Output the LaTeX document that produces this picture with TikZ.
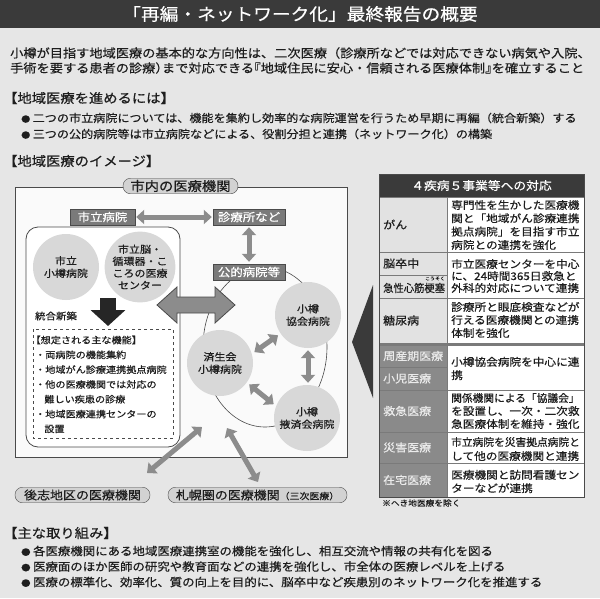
\documentclass[tikz,border=0pt]{standalone}
\usepackage{fontspec}
\usepackage{tikz}
\usetikzlibrary{positioning,arrows.meta}

\newfontfamily\jp{Noto Sans CJK JP}[FakeStretch=1.1,FakeBold=0.5]
\newfontfamily\jph{Noto Sans CJK JP}[FakeStretch=1.1,FakeBold=0.5,RawFeature=+halt]
\newcommand{\fsz}[2]{\fontsize{#1}{#2}\selectfont}
\newcommand{\halfw}[1]{{\jph #1}}
\newcommand{\blt}{\makebox[1.05em][l]{\scalebox{0.75}{●}}}

\definecolor{bggray}{HTML}{E6E6E6}
\definecolor{barblack}{HTML}{3A3A3A}
\definecolor{ink}{HTML}{1E1E1E}
\definecolor{edge}{HTML}{4A4A4A}
\definecolor{lblgray}{HTML}{7A7A7A}
\definecolor{circgray}{HTML}{D8D8D8}
\definecolor{arrgray}{HTML}{8C8C8C}
\definecolor{pillgray}{HTML}{D2D2D2}
\definecolor{celllite}{HTML}{E2E2E2}
\definecolor{celldark}{HTML}{8A8A8A}
\definecolor{cellline}{HTML}{7A7A7A}

\begin{document}
\begin{tikzpicture}[x=1pt, y=-1pt, on grid,
  txt/.style={inner sep=0pt, text=ink, align=left},
  lbl/.style={draw=edge, fill=lblgray, text=white, minimum height=16pt, inner sep=0pt, font=\jp\fsz{11.3}{12}},
  hosp/.style={circle, fill=circgray, minimum size=66pt, inner sep=0pt, align=center, text=ink, font=\jp\fsz{10}{12.5}},
  pill/.style={draw=edge, fill=pillgray, rounded corners=7.5pt, minimum height=15.5pt, inner sep=0pt, text=ink},
  link/.style={line width=5pt, draw=arrgray, {Triangle[length=8pt,width=14pt]}-{Triangle[length=8pt,width=14pt]}},
  lcell/.style={anchor=west, inner sep=0pt, text=ink, font=\jp\fsz{10.9}{13}},
  dcell/.style={lcell, text=white!92!black},
  rcell/.style={anchor=west, inner sep=0pt, text=ink, align=left, font=\jp\fsz{10.6}{13.3}}]

  \fill[bggray] (0,0) rectangle (600,598);
  \useasboundingbox (0,0) rectangle (600,598);
  \fill[barblack] (0,0) rectangle (600,28);
  \node[txt, text=white, font=\jp\fsz{17}{20}] (title) at (300,14) {「再編・ネットワーク化」最終報告の概要};

  \node[txt, anchor=west, font=\jp\fsz{12}{15}] (lead) at (10,60.5) {小樽が目指す地域医療の基本的な方向性は、二次医療（診療所などでは対応できない病気や入院、\\手術を要する患者の診療\halfw{）}まで対応できる\halfw{『}地域住民に安心・信頼される医療体制\halfw{』}を確立すること};

  \node[txt, anchor=west, font=\jp\fsz{13}{15}] (sec1) at (3,98) {【地域医療を進めるには】};
  \node[txt, anchor=west, font=\jp\fsz{11}{16}] (sec1b) at (21,126) {\blt 二つの市立病院については、機能を集約し効率的な病院運営を行うため早期に再編（統合新築）する\\\blt 三つの公的病院等は市立病院などによる、役割分担と連携（ネットワーク化）の構築};
  \node[txt, anchor=west, font=\jp\fsz{13}{15}] (sec2) at (3,161) {【地域医療のイメージ】};

  % map of the city
  \draw[edge, fill=white!98!black, line width=0.8pt] (15,187) rectangle (347,457);
  \draw[edge, line width=0.6pt] (265,347) ellipse [x radius=62, y radius=80];
  \node[pill, minimum width=115pt, font=\jp\fsz{13}{14}] (shinai) at (180.5,186) {市内の医療機関};

  \draw[edge, fill=white, rounded corners=12pt, line width=0.8pt] (26,227) rectangle (180,447);
  \node[lbl, minimum width=65pt] (shiritsu) at (102.5,217) {市立病院};
  \node[lbl, minimum width=72pt] (shinryo) [right=146.5pt of shiritsu] {診療所など};
  \node[lbl, minimum width=72pt] (kouteki) [below=55pt of shinryo] {公的病院等};

  \node[hosp] (otaru) at (66,267) {市立\\小樽病院};
  \node[hosp, font=\jp\fsz{10}{12}] (nouju) [right=74pt of otaru] {市立脳・\\循環器・こ\\ころの医療\\センター};

  \coordinate (merge1) at (108,298);
  \coordinate (merge2) at (108,326);
  \draw[line width=16pt, draw=black!85, -{Triangle[length=16pt,width=34pt]}] (merge1) -- (merge2);
  \node[txt, font=\jp\fsz{9.5}{11}] (merge) at (56,316) {統合新築};

  \draw[edge, dashed, line width=0.7pt] (33,329) rectangle (173,438);
  \node[txt, anchor=west, font=\jp\fsz{9.2}{14.8}] (kinou) at (35,384.4) {\hspace{-0.5em}【想定される主な機能】\\・両病院の機能集約\\・地域がん診療連携拠点病院\\・他の医療機関では対応の\\\hspace*{1em}難しい疾患の診療\\・地域医療連携センターの\\\hspace*{1em}設置};

  \coordinate (big1) at (157,305);
  \coordinate (big2) at (235,305);
  \draw[edge, fill=arrgray, line width=0.8pt] (big1) -- ++(20,-18) -- ++(0,10) -- ++(38,0) -- ++(0,-10) -- (big2) -- ++(-20,18) -- ++(0,-10) -- ++(-38,0) -- ++(0,10) -- cycle;

  \node[hosp] (saisei) at (220,363) {済生会\\小樽病院};
  \node[hosp] (kyokai) at (308,315) {小樽\\協会病院};
  \node[hosp] (ekisai) at (307,418) {小樽\\掖済会病院};

  \draw[link, shorten <=1pt, shorten >=1pt] (shiritsu) -- (shinryo);
  \draw[link, shorten <=2pt, shorten >=2pt] (shinryo) -- (kouteki);
  \draw[link, shorten <=3pt, shorten >=3pt] (saisei.16) -- (kyokai.214);
  \draw[link, shorten <=2pt, shorten >=2pt] (kyokai.south) -- (kyokai.south |- ekisai.north);
  \draw[link, shorten <=3pt, shorten >=3pt] (saisei.-36) -- (ekisai.159);

  \node[pill, minimum width=135pt, font=\jp\fsz{11.8}{13}] (shiribeshi) at (82.5,495) {後志地区の医療機関};
  \node[pill, minimum width=179pt, font=\jp\fsz{11.8}{13}] (sapporo) at (257.5,495) {札幌圏の医療機関{\fsz{9}{10}（三次医療）}};
  \coordinate (out1) at (147,473);
  \coordinate (in1) at (202,427);
  \coordinate (out2) at (258,482);
  \coordinate (in2) at (227,428);
  \draw[link] (out1) -- (in1);
  \draw[link] (out2) -- (in2);

  % table of diseases
  \fill[barblack] (352,342) -- (373,285) -- (373,398) -- cycle;
  \fill[barblack] (379,174) rectangle (584,197);
  \node[txt, text=white, font=\jp\fsz{11.6}{13}] (taiou) at (481.5,185.5) {４疾病５事業等への対応};

  \foreach \ya/\yb/\fc in {197/252/celllite, 252/275/celllite, 275/298/celllite, 298/343/celllite, 345/367/celldark, 367/390/celldark, 390/432/celldark, 432/463/celldark, 463/497/celldark}
    \filldraw[draw=cellline, fill=\fc] (379,\ya) rectangle (447,\yb);
  \foreach \ya/\yb in {197/252, 252/298, 298/343, 345/390, 390/432, 432/463, 463/497}
    \filldraw[draw=cellline, fill=white] (447,\ya) rectangle (584,\yb);
  \fill[cellline] (379,343) rectangle (584,345);
  \draw[edge, line width=0.8pt] (379,174) rectangle (584,497);

  \node[lcell] (gan) at (383,224.5) {がん};
  \node[lcell] (nou) at (383,263.5) {脳卒中};
  \node[lcell] (shinkin) at (383,288) {\scalebox{0.86}[1]{急性心筋梗塞}};
  \node[txt, font=\jp\fsz{4.5}{5}] (ruby) at (435,278.5) {こうそく};
  \node[lcell] (tou) at (383,320.5) {糖尿病};
  \node[dcell] (shusan) at (383,356) {周産期医療};
  \node[dcell] (shoni) at (383,378.5) {小児医療};
  \node[dcell] (kyukyu) at (383,411) {救急医療};
  \node[dcell] (saigai) at (383,447.5) {災害医療};
  \node[dcell] (zaitaku) at (383,480) {在宅医療};

  \node[rcell] (gan-t) at (451,225) {専門性を生かした医療機\\関と「地域がん診療連携\\拠点病院」を目指す市立\\病院との連携を強化};
  \node[rcell, font=\jp\fsz{10.6}{12}] (nou-t) at (451,276) {市立医療センターを中心\\に、24時間365日救急と\\外科的対応について連携};
  \node[rcell, font=\jp\fsz{10.6}{13}] (tou-t) at (451,320) {診療所と眼底検査などが\\行える医療機関との連携\\体制を強化};
  \node[rcell] (shusan-t) at (451,368.5) {小樽協会病院を中心に連\\携};
  \node[rcell, font=\jp\fsz{10.6}{13}] (kyukyu-t) at (451,411) {\scalebox{0.92}[1]{関係機関による「協議会」}\\を設置し、一次・二次救\\急医療体制を維持・強化};
  \node[rcell, font=\jp\fsz{10.6}{14}] (saigai-t) at (451,449) {\scalebox{0.92}[1]{市立病院を災害拠点病院と}\\して他の医療機関と連携};
  \node[rcell] (zaitaku-t) at (451,481.5) {医療機関と訪問看護セン\\ターなどが連携};
  \node[txt, anchor=west, font=\jp\fsz{7.9}{9}] (note) at (382,503) {※へき地医療を除く};

  \node[txt, anchor=west, font=\jp\fsz{13}{15}] (sec3) at (3,533) {【主な取り組み】};
  \node[txt, anchor=west, font=\jp\fsz{11.3}{15.5}] (sec3b) at (21,566.5) {\blt 各医療機関にある地域医療連携室の機能を強化し、相互交流や情報の共有化を図る\\\blt 医療面のほか医師の研究や教育面などの連携を強化し、市全体の医療レベルを上げる\\\blt 医療の標準化、効率化、質の向上を目的に、脳卒中など疾患別のネットワーク化を推進する};

\end{tikzpicture}
\end{document}
